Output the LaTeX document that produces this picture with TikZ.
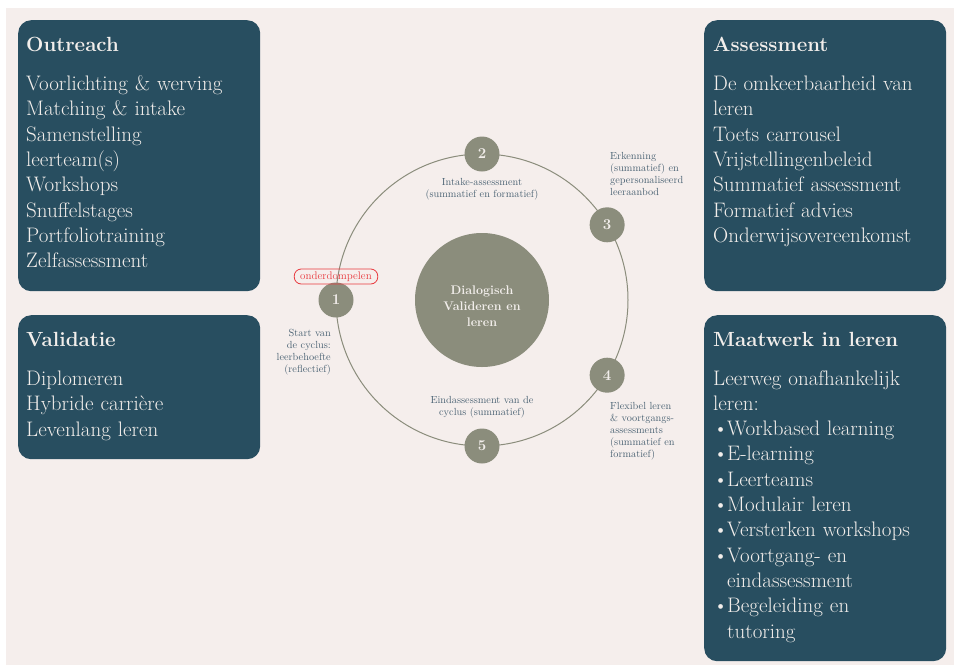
\documentclass[tikz,border=0pt]{standalone}
\usepackage{tikz}
\definecolor{boxblue}{HTML}{284E60}
\definecolor{sage}{HTML}{8B8D7C}
\definecolor{paper}{HTML}{F5EEEC}
\definecolor{inktext}{HTML}{4A6273}
\definecolor{boxtext}{HTML}{F2EEEB}
\definecolor{alarm}{HTML}{E83A3F}

\begin{document}
\begin{tikzpicture}[x=1pt,y=-1pt,
    panel/.style={fill=boxblue,rounded corners=13pt,anchor=north west,minimum width=242pt,inner sep=0pt},
    heading/.style={anchor=base west,inner sep=0pt,text=boxtext,font=\fontsize{20.5}{24}\selectfont\bfseries},
    items/.style={anchor=base west,inner sep=0pt,text=boxtext,text width=236pt,align=left,font=\fontsize{21}{25.3}\selectfont},
    stage/.style={circle,fill=sage,minimum size=35pt,inner sep=0pt,text=boxtext,font=\fontsize{15}{15}\selectfont\bfseries},
    note/.style={inner sep=0pt,text=inktext,text width=130pt,font=\fontsize{10.3}{12}\selectfont}]
  \useasboundingbox (0,0) rectangle (954,665);
  \fill[white] (0,0) rectangle (954,665);
  \fill[paper] (6,8) rectangle (954,665);

  % left boxes
  \node[panel,minimum height=271pt] (outreach) at (18,20) {};
  \node[heading] (outreachtitle) at (26,51.5) {Outreach};
  \node[items] (outreachlist) at (26,90.5) {Voorlichting \& werving\\Matching \& intake\\Samenstelling\\leerteam(s)\\Workshops\\Snuffelstages\\Portfoliotraining\\Zelfassessment};

  \node[panel,minimum height=144pt] (validatie) at (18,315) {};
  \node[heading] (validatietitle) at (26,346.5) {Validatie};
  \node[items] (validatielist) at (26,385.5) {Diplomeren\\Hybride carrière\\Levenlang leren};

  % right boxes
  \node[panel,minimum height=271pt] (assessment) at (704,20) {};
  \node[heading] (assessmenttitle) at (713,51.5) {Assessment};
  \node[items] (assessmentlist) at (713,90.5) {De omkeerbaarheid van\\leren\\Toets carrousel\\Vrijstellingenbeleid\\Summatief assessment\\Formatief advies\\Onderwijsovereenkomst};

  \node[panel,minimum height=346pt] (maatwerk) at (704,315) {};
  \node[heading] (maatwerktitle) at (713,346.5) {Maatwerk in leren};
  \node[items] (maatwerklist) at (713,385) {Leerweg onafhankelijk\\leren:\\
    \makebox[14pt][l]{\textbullet}Workbased learning\\
    \makebox[14pt][l]{\textbullet}E-learning\\
    \makebox[14pt][l]{\textbullet}Leerteams\\
    \makebox[14pt][l]{\textbullet}Modulair leren\\
    \makebox[14pt][l]{\textbullet}Versterken workshops\\
    \makebox[14pt][l]{\textbullet}Voortgang- en\\
    \hspace*{14pt}eindassessment\\
    \makebox[14pt][l]{\textbullet}Begeleiding en\\
    \hspace*{14pt}tutoring};

  % cycle
  \node[circle,fill=sage,minimum size=134pt,inner sep=0pt] (hub) at (482,300) {};
  \node[text=boxtext,align=center,font=\fontsize{12.5}{15.7}\selectfont\bfseries] (hubtext) at ([yshift=-6pt]hub.center) {Dialogisch\\Valideren en\\leren};
  \draw[sage,line width=1pt] (hub.center) circle[radius=146pt];
  \node[stage] (s1) at ([shift={(180:146pt)}]hub.center) {1};
  \node[stage] (s2) at ([shift={(90:146pt)}]hub.center) {2};
  \node[stage] (s3) at ([shift={(31:146pt)}]hub.center) {3};
  \node[stage] (s4) at ([shift={(-31:146pt)}]hub.center) {4};
  \node[stage] (s5) at ([shift={(270:146pt)}]hub.center) {5};

  \node[draw=alarm,text=alarm,line width=0.8pt,rounded corners=7pt,inner xsep=6pt,inner ysep=0pt,minimum height=15pt,font=\fontsize{11}{11}\selectfont] (dive) at (336,276.5) {onderdompelen};

  % stage texts
  \node[note,align=center,anchor=base] (s2text) at (482,185) {Intake-assessment\\(summatief en formatief)};
  \node[note,align=left,anchor=base west] (s3text) at (610,159) {Erkenning\\(summatief) en\\gepersonaliseerd\\leeraanbod};
  \node[note,align=right,anchor=base east] (s1text) at (331,336.7) {Start van\\de cyclus:\\leerbehoefte\\(reflectief)};
  \node[note,align=center,anchor=base] (s5text) at (482,403.3) {Eindassessment van de\\cyclus (summatief)};
  \node[note,align=left,anchor=base west] (s4text) at (610,409.3) {Flexibel leren\\\& voortgangs-\\assessments\\(summatief en\\formatief)};
\end{tikzpicture}
\end{document}
